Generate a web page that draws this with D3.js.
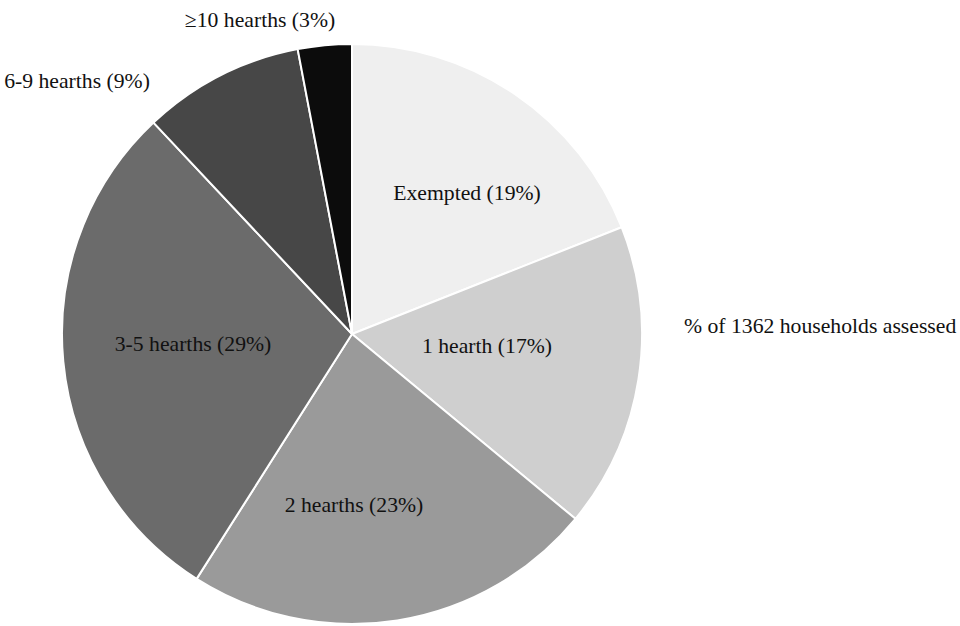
<!DOCTYPE html>
<html>
<head>
<meta charset="utf-8">
<script src="https://cdn.jsdelivr.net/npm/d3@7"></script>
<style>
  html, body { margin: 0; padding: 0; background: #fff; }
  svg { display: block; }
  text { font-family: "Liberation Serif", "Times New Roman", serif; fill: #111; }
</style>
</head>
<body>
<svg id="chart" width="960" height="626"></svg>
<script>
// Hearth tax assessment categories, clockwise from 12 o'clock
const categories = ["Exempted", "1 hearth", "2 hearths", "3-5 hearths", "6-9 hearths", "\u226510 hearths"];
const shares = [19, 17, 23, 29, 9, 3];
const fills = ["#efefef", "#cfcfcf", "#9a9a9a", "#6b6b6b", "#474747", "#0c0c0c"];
const legendText = "% of 1362 households assessed";

// label placement relative to pie centre (px)
const labelOffsets = [[115, -142], [135, 11], [2, 170], [-159, 9], [-275, -254], [-92, -315]];

const width = 960, height = 626;
const cx = 352, cy = 334, radius = 290;
const fontSize = "21.7px";

const svg = d3.select("#chart");
const g = svg.append("g").attr("transform", `translate(${cx},${cy})`);

const pie = d3.pie().sort(null).value(d => d.value);
const arc = d3.arc().innerRadius(0).outerRadius(radius);

const data = categories.map((c, i) => ({ name: c, value: shares[i], fill: fills[i], off: labelOffsets[i] }));
const arcs = pie(data);

g.selectAll("path.slice")
  .data(arcs)
  .join("path")
  .attr("class", "slice")
  .attr("d", arc)
  .attr("fill", d => d.data.fill)
  .attr("stroke", "#fff")
  .attr("stroke-width", 2)
  .attr("stroke-linejoin", "round");

g.selectAll("text.lbl")
  .data(arcs)
  .join("text")
  .attr("class", "lbl")
  .attr("x", d => d.data.off[0])
  .attr("y", d => d.data.off[1])
  .attr("dy", "0.35em")
  .attr("text-anchor", "middle")
  .style("font-size", fontSize)
  .text(d => `${d.data.name} (${d.data.value}%)`);

svg.append("text")
  .attr("x", 684)
  .attr("y", 325)
  .attr("dy", "0.35em")
  .style("font-size", fontSize)
  .text(legendText);
</script>
</body>
</html>
